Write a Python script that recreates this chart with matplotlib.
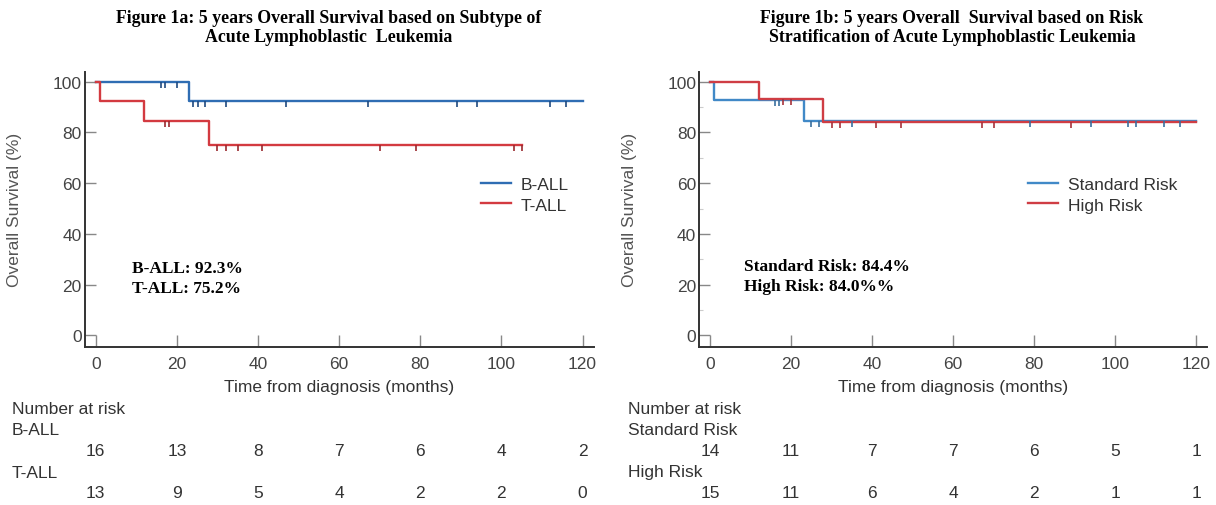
import numpy as np
import matplotlib
matplotlib.use("Agg")
import matplotlib.pyplot as plt
from matplotlib.transforms import blended_transform_factory

plt.rcParams['font.family'] = ['Liberation Sans', 'DejaVu Sans']

# Figure 1a: subtype
b_all_t = [0, 23, 120]
b_all_s = [100, 92.3, 92.3]
b_all_cens = [16, 17, 20, 24, 25.3, 27, 32, 47, 67, 89, 94, 112, 116]
t_all_t = [0, 1, 12, 28, 105]
t_all_s = [100, 92.3, 84.6, 75.2, 75.2]
t_all_cens = [17, 18, 30, 32, 35, 41, 70, 79, 103, 105]

# Figure 1b: risk stratification
std_t = [0, 1, 23.3, 120]
std_s = [100, 92.9, 84.4, 84.4]
std_cens = [16, 17, 25, 27, 35, 79, 94, 103, 105, 112, 116]
high_t = [0, 12, 28, 120]
high_s = [100, 93.3, 84.0, 84.0]
high_cens = [18, 20, 30, 32, 41, 47, 67, 70, 89]

risk_times = [0, 20, 40, 60, 80, 100, 120]
risk_b_all = [16, 13, 8, 7, 6, 4, 2]
risk_t_all = [13, 9, 5, 4, 2, 2, 0]
risk_std = [14, 11, 7, 7, 6, 5, 1]
risk_high = [15, 11, 6, 4, 2, 1, 1]

W, H = 1216, 506
fig = plt.figure(figsize=(W / 100, H / 100), dpi=100)


def surv_at(times, surv, t):
    idx = np.searchsorted(times, t, side='right') - 1
    return np.array(surv)[idx]


def km(ax, times, surv, cens, color, cens_color, label):
    line, = ax.step(times, surv, where='post', color=color, lw=1.7, label=label, zorder=3)
    ax.plot(cens, surv_at(times, surv, cens), linestyle='none', marker=3, ms=4.5,
            mew=1.2, color=cens_color, zorder=4)
    return line


def setup(ax, xlim, minor=False):
    ax.set_xlim(*xlim)
    ax.set_ylim(-4.65, 104)
    for s in ['top', 'right']:
        ax.spines[s].set_visible(False)
    for s in ['left', 'bottom']:
        ax.spines[s].set_color('#333333')
        ax.spines[s].set_linewidth(1.4)
    ax.set_xticks(risk_times)
    ax.set_yticks([0, 20, 40, 60, 80, 100])
    ax.tick_params(axis='y', direction='in', length=8, width=1, color='#888888',
                   labelsize=12.5, labelcolor='#444444', pad=2)
    ax.tick_params(axis='x', direction='in', length=8.5, width=1, color='#888888',
                   labelsize=12.5, labelcolor='#444444', pad=6)
    if minor:
        ax.set_yticks([10, 30, 50, 70, 90], minor=True)
        ax.tick_params(axis='y', which='minor', direction='in', length=3, width=0.8,
                       color='#cccccc')
    ax.set_ylabel('Overall Survival (%)', fontsize=12.5, color='#555555')
    ax.yaxis.set_label_coords(-0.123, 0.5)
    ax.set_xlabel('Time from diagnosis (months)', fontsize=12.5, color='#333333', labelpad=6)


def add_axes(l, t, r, b):
    return fig.add_axes([l / W, 1 - b / H, (r - l) / W, (b - t) / H])


def risk_table(ax, x_head, names, rows):
    tr = blended_transform_factory(ax.transData, fig.transFigure)
    fy = lambda y: 1 - y / H
    fig.text(x_head / W, fy(410), 'Number at risk', fontsize=12.5, color='#333333', va='center')
    ys = [(431, 452), (473, 494)]
    for name, row, (yh, yn) in zip(names, rows, ys):
        fig.text(x_head / W, fy(yh), name, fontsize=12.5, color='#333333', va='center')
        for t, n in zip(risk_times, row):
            ax.text(t, fy(yn), str(n), transform=tr, ha='center', va='center',
                    fontsize=12.5, color='#333333')


serif = ['Liberation Serif', 'DejaVu Serif']

# left panel
ax1 = add_axes(84.5, 72.5, 594, 348.3)
setup(ax1, (-2.76, 122.83))
h1 = km(ax1, b_all_t, b_all_s, b_all_cens, '#2f6db3', '#1f4a80', 'B-ALL')
h2 = km(ax1, t_all_t, t_all_s, t_all_cens, '#d33a40', '#9a2a2f', 'T-ALL')
ax1.legend(handles=[h1, h2], loc='upper left', bbox_to_anchor=(481 / W, 1 - 178 / H),
           bbox_transform=fig.transFigure, frameon=False, fontsize=12.5,
           handlelength=1.75, handletextpad=0.55, labelspacing=0.3, borderpad=0,
           borderaxespad=0, labelcolor='#333333')
ax1.text(132 / W, 1 - 279 / H, 'B-ALL: 92.3%\nT-ALL: 75.2%', transform=fig.transFigure,
         family=serif, fontweight='bold', fontsize=12.5, va='center', ha='left',
         linespacing=1.35)
risk_table(ax1, 12, ['B-ALL', 'T-ALL'], [risk_b_all, risk_t_all])
fig.text(329 / W, 1 - 28 / H,
         'Figure 1a: 5 years Overall Survival based on Subtype of\nAcute Lymphoblastic  Leukemia',
         family=serif, fontweight='bold', fontsize=12.8, ha='center', va='center',
         linespacing=1.15)

# right panel
ax2 = add_axes(699, 72.5, 1207, 348.3)
setup(ax2, (-2.71, 122.6), minor=True)
h3 = km(ax2, std_t, std_s, std_cens, '#4189c7', '#3a6f9e', 'Standard Risk')
h4 = km(ax2, high_t, high_s, high_cens, '#cf3d44', '#a8323a', 'High Risk')
ax2.legend(handles=[h3, h4], loc='upper left', bbox_to_anchor=(1028 / W, 1 - 178 / H),
           bbox_transform=fig.transFigure, frameon=False, fontsize=12.5,
           handlelength=1.75, handletextpad=0.55, labelspacing=0.3, borderpad=0,
           borderaxespad=0, labelcolor='#333333')
ax2.text(744 / W, 1 - 277 / H, 'Standard Risk: 84.4%\nHigh Risk: 84.0%%',
         transform=fig.transFigure, family=serif, fontweight='bold', fontsize=12.5,
         va='center', ha='left', linespacing=1.3)
risk_table(ax2, 628, ['Standard Risk', 'High Risk'], [risk_std, risk_high])
fig.text(952 / W, 1 - 28 / H,
         'Figure 1b: 5 years Overall  Survival based on Risk\nStratification of Acute Lymphoblastic Leukemia',
         family=serif, fontweight='bold', fontsize=12.8, ha='center', va='center',
         linespacing=1.15)

fig.savefig('out.png', dpi=100)
